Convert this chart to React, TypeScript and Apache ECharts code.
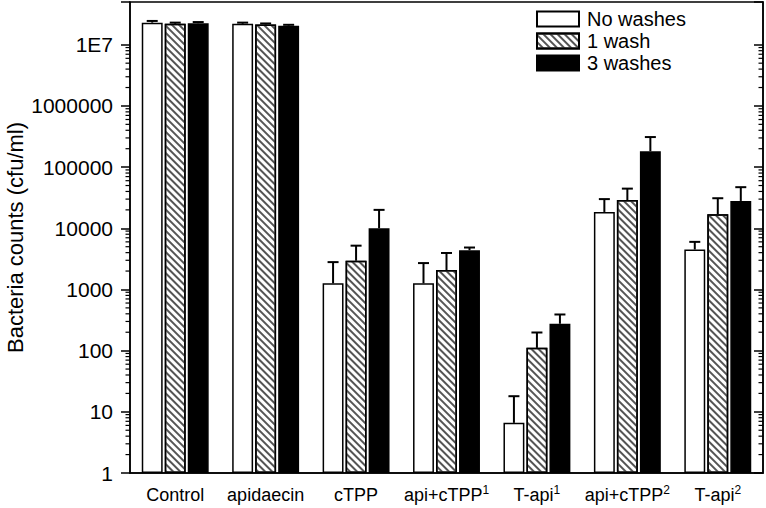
import React, { useEffect, useRef } from "react";
import * as echarts from "echarts";

const categories = ["Control", "apidaecin", "cTPP", "api+cTPP^1", "T-api^1", "api+cTPP^2", "T-api^2"];
const seriesNames = ["No washes", "1 wash", "3 washes"];
const noWashes = [23000000, 22000000, 1260, 1260, 6.6, 18500, 4500];
const noWashesUpper = [24500000, 23000000, 2800, 2700, 18, 30000, 6000];
const oneWash = [22000000, 21500000, 2950, 2080, 111, 29000, 17000];
const oneWashUpper = [23000000, 22300000, 5200, 3950, 198, 44500, 31000];
const threeWashes = [22500000, 20500000, 10000, 4380, 275, 182000, 28000];
const threeWashesUpper = [23500000, 21200000, 20000, 4850, 390, 310000, 47000];
const yMin = 1;
const yMax = 50000000;
const majorTickLabels: Record<string, string> = {
  "1": "1",
  "10": "10",
  "100": "100",
  "1000": "1000",
  "10000": "10000",
  "100000": "100000",
  "1000000": "1000000",
  "10000000": "1E7",
};

const FONT = "'Liberation Sans', Arial, sans-serif";
const CAT_GAP = 0.26;
const BAR_GAP = 0.1;

function minorTickValues(): number[][] {
  const out: number[][] = [];
  for (let d = 1; d <= yMax / 10; d *= 10) {
    for (let m = 2; m <= 9; m++) {
      const v = m * d;
      if (v < yMax) out.push([0, v]);
    }
  }
  return out;
}

export default function App() {
  const ref = useRef<HTMLDivElement>(null);
  useEffect(() => {
    if (!ref.current) return;
    const chart = echarts.init(ref.current, null, { renderer: "svg" });
    const values = [noWashes, oneWash, threeWashes];
    const uppers = [noWashesUpper, oneWashUpper, threeWashesUpper];
    const barStyles: any[] = [
      { color: "#fff", borderColor: "#000", borderWidth: 1.5 },
      {
        color: "#fff",
        borderColor: "#000",
        borderWidth: 1.5,
        decal: {
          symbol: "rect",
          symbolSize: 1,
          symbolKeepAspect: false,
          color: "#555",
          backgroundColor: "#fff",
          dashArrayX: [1, 0],
          dashArrayY: [1.1, 2.7],
          rotation: Math.PI / 4,
        },
      },
      { color: "#000", borderColor: "#000", borderWidth: 1.5 },
    ];
    const barSeries = seriesNames.map((name, i) => ({
      type: "bar",
      name,
      data: values[i],
      barCategoryGap: `${CAT_GAP * 100}%`,
      barGap: `${BAR_GAP * 100}%`,
      itemStyle: barStyles[i],
      emphasis: { disabled: true },
    }));
    const errSeries = seriesNames.map((name, i) => ({
      type: "custom",
      name: name + " err",
      data: values[i].map((v, k) => [k, v, uppers[i][k]]),
      encode: { x: 0, y: 1 },
      z: 3,
      silent: true,
      renderItem: (params: any, api: any) => {
        const k = api.value(0);
        const v = api.value(1);
        const u = api.value(2);
        const band = api.size([1, 0])[0];
        const gw = band * (1 - CAT_GAP);
        const bw = gw / (3 + 2 * BAR_GAP);
        const off = -gw / 2 + bw / 2 + i * bw * (1 + BAR_GAP);
        const p0 = api.coord([k, v]);
        const p1 = api.coord([k, u]);
        const x = p0[0] + off;
        const half = 5.5;
        return {
          type: "group",
          children: [
            { type: "line", shape: { x1: x, y1: p0[1], x2: x, y2: p1[1] }, style: { stroke: "#000", lineWidth: 2 } },
            { type: "line", shape: { x1: x - half, y1: p1[1], x2: x + half, y2: p1[1] }, style: { stroke: "#000", lineWidth: 2 } },
          ],
        };
      },
    }));
    const minorSeries = {
      type: "custom",
      name: "minor",
      data: minorTickValues(),
      encode: { x: 0, y: 1 },
      silent: true,
      clip: false,
      renderItem: (params: any, api: any) => {
        const cs = params.coordSys;
        const p = api.coord([0, api.value(1)]);
        const right = cs.x + cs.width;
        return {
          type: "group",
          children: [
            { type: "line", shape: { x1: cs.x - 4.5, y1: p[1], x2: cs.x, y2: p[1] }, style: { stroke: "#000", lineWidth: 1.2 } },
            { type: "line", shape: { x1: right - 4.5, y1: p[1], x2: right, y2: p[1] }, style: { stroke: "#000", lineWidth: 1.2 } },
          ],
        };
      },
    };
    const option: any = {
      animation: false,
      backgroundColor: "#fff",
      grid: {
        left: 130,
        right: 3,
        top: 2,
        bottom: 35,
        show: true,
        borderColor: "#000",
        borderWidth: 1.5,
        backgroundColor: "transparent",
        containLabel: false,
        outerBoundsMode: "none",
      },
      legend: {
        data: seriesNames,
        orient: "vertical",
        left: 536,
        top: 9,
        padding: 0,
        itemWidth: 42,
        itemHeight: 15,
        itemGap: 2,
        icon: "rect",
        selectedMode: false,
        textStyle: { fontFamily: FONT, fontSize: 20, color: "#000", padding: [0, 0, 0, 3] },
      },
      xAxis: {
        type: "category",
        data: categories,
        axisTick: { show: false },
        axisLine: { lineStyle: { color: "#000", width: 1.5 } },
        axisLabel: {
          interval: 0,
          margin: 11,
          color: "#000",
          fontFamily: FONT,
          fontSize: 18,
          formatter: (s: string) => {
            const parts = s.split("^");
            return parts.length > 1 ? `{n|${parts[0]}}{sup|${parts[1]}}` : `{n|${s}}`;
          },
          rich: {
            n: { fontFamily: FONT, fontSize: 18, color: "#000", lineHeight: 21 },
            sup: { fontFamily: FONT, fontSize: 12, color: "#000", verticalAlign: "top", lineHeight: 21 },
          },
        },
      },
      yAxis: [
        {
          type: "log",
          logBase: 10,
          min: yMin,
          max: yMax,
          splitNumber: 8,
          name: "Bacteria counts (cfu/ml)",
          nameLocation: "middle",
          nameGap: 104,
          nameMoveOverlap: false,
          nameTextStyle: { fontFamily: FONT, fontSize: 22, color: "#000" },
          axisLine: { show: true, lineStyle: { color: "#000", width: 1.5 } },
          axisTick: { show: true, length: 9, inside: false, lineStyle: { color: "#000", width: 1.5 } },
          splitLine: { show: false },
          axisLabel: {
            margin: 17,
            color: "#000",
            fontFamily: FONT,
            fontSize: 21,
            formatter: (v: number) => majorTickLabels[String(Math.round(v))] ?? "",
          },
        },
        {
          type: "log",
          logBase: 10,
          min: yMin,
          max: yMax,
          splitNumber: 8,
          position: "right",
          axisLine: { show: true, lineStyle: { color: "#000", width: 1.5 } },
          axisTick: { show: true, length: 9, inside: true, lineStyle: { color: "#000", width: 1.5 } },
          splitLine: { show: false },
          axisLabel: { show: false },
        },
      ],
      series: [...barSeries, ...errSeries, minorSeries],
    };
    chart.setOption(option);
    return () => chart.dispose();
  }, []);
  return <div ref={ref} style={{ width: 766, height: 508, position: "absolute", left: 0, top: 0 }} />;
}
